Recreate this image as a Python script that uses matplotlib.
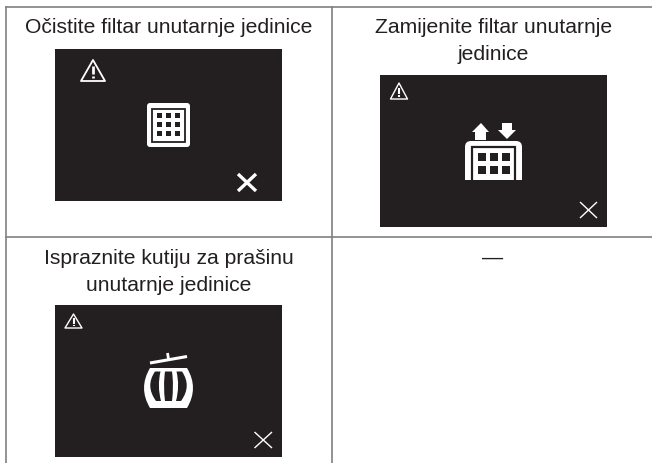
import matplotlib
matplotlib.use('Agg')
import matplotlib.pyplot as plt
import matplotlib.patches as mpatches
from matplotlib.path import Path

labels = ['Očistite filtar unutarnje\u00a0jedinice',
          'Zamijenite filtar unutarnje\njedinice',
          'Ispraznite kutiju za prašinu\nunutarnje jedinice',
          '—']
label_xy = [(168.5, 27.5), (493.5, 41), (168.5, 272), (493, 258)]
# black screens: left, top, right, bottom (pixels)
screens = [(55, 50, 282, 202), (380, 76, 607, 228), (55, 306, 282, 458)]

DARK = '#231f20'
GREY = '#808080'

plt.rcParams['font.family'] = ['Liberation Sans', 'DejaVu Sans']

fig = plt.figure(figsize=(6.52, 4.64), dpi=100)
ax = fig.add_axes([0, 0, 1, 1])
ax.set_xlim(0, 652)
ax.set_ylim(464, 0)
ax.axis('off')


def rect(x0, y0, x1, y1, color, zorder=3):
    ax.add_patch(mpatches.Rectangle((x0, y0), x1 - x0, y1 - y0, fc=color, ec='none', zorder=zorder))


def warning(x0, y0, x1, y1, lw):
    cx = (x0 + x1) / 2
    ax.add_patch(mpatches.Polygon([(cx, y0), (x1, y1), (x0, y1)], closed=True, fc='none',
                                  ec='white', lw=lw, joinstyle='round', zorder=4))
    h = y1 - y0
    ax.plot([cx, cx], [y0 + 0.30 * h, y0 + 0.68 * h], color='white', lw=lw * 1.5, zorder=4, solid_capstyle='butt')
    ax.plot([cx, cx], [y0 + 0.75 * h, y0 + 0.88 * h], color='white', lw=lw * 1.5, zorder=4, solid_capstyle='butt')


def cross(x0, y0, x1, y1, lw):
    ax.plot([x0, x1], [y0, y1], color='white', lw=lw, zorder=4, solid_capstyle='butt')
    ax.plot([x0, x1], [y1, y0], color='white', lw=lw, zorder=4, solid_capstyle='butt')


# table lines
ax.plot([6, 652], [8, 8], color=GREY, lw=1.2)
ax.plot([6, 652], [237.5, 237.5], color=GREY, lw=1.2)
ax.plot([6, 6], [8, 464], color=GREY, lw=1.2)
ax.plot([331.5, 331.5], [8, 464], color=GREY, lw=1.2)

for (x, y), lab in zip(label_xy, labels):
    ax.text(x, y, lab, ha='center', va='center', fontsize=15.2, color=DARK, linespacing=1.5)

for x0, y0, x1, y1 in screens:
    rect(x0, y0, x1, y1, DARK, zorder=2)

warning(81, 61, 105, 82, 1.3)
warning(390.5, 84, 407.5, 100, 1.0)
warning(65, 315, 82, 329, 1.0)
cross(238, 175, 256, 192, 2.4)
cross(580, 203, 597, 219, 1.0)
cross(254.5, 433, 272, 449, 1.0)

# filter icon
ax.add_patch(mpatches.FancyBboxPatch((149, 106), 39, 40, boxstyle='round,pad=2,rounding_size=3',
                                     fc='white', ec='none', zorder=3))
ax.add_patch(mpatches.Rectangle((152, 110), 33, 33, fc='none', ec=DARK, lw=1.3, zorder=4))
for sx in (157, 166, 175):
    for sy in (114, 123, 132):
        rect(sx, sy, sx + 5, sy + 5, DARK, zorder=5)

# filter with arrows icon
verts = [(465, 181), (465, 148), (465, 142), (471, 142), (516, 142), (522, 142), (522, 148), (522, 181), (465, 181)]
codes = [Path.MOVETO, Path.LINETO, Path.CURVE3, Path.CURVE3, Path.LINETO, Path.CURVE3, Path.CURVE3, Path.LINETO, Path.CLOSEPOLY]
ax.add_patch(mpatches.PathPatch(Path(verts, codes), fc='white', ec='none', zorder=3))
ax.plot([472, 472, 515, 515], [181, 147.5, 147.5, 181], color=DARK, lw=1.6, zorder=4, solid_joinstyle='miter')
for sx in (478, 490, 502):
    for sy in (154, 167):
        rect(sx, sy, sx + 8, sy + 8, DARK, zorder=5)
ax.add_patch(mpatches.Polygon([(481, 124), (489, 133), (486, 133), (486, 141), (475, 141), (475, 133), (472, 133)],
                              closed=True, fc='white', ec='none', zorder=4))
ax.add_patch(mpatches.Polygon([(507, 140), (498, 131), (502, 131), (502, 124), (512, 124), (512, 131), (516, 131)],
                              closed=True, fc='white', ec='none', zorder=4))

# dust bin icon
verts = [(150, 369), (138, 389), (150, 409), (187, 409), (199, 389), (187, 369), (150, 369)]
codes = [Path.MOVETO, Path.CURVE3, Path.CURVE3, Path.LINETO, Path.CURVE3, Path.CURVE3, Path.CLOSEPOLY]
ax.add_patch(mpatches.PathPatch(Path(verts, codes), fc='white', ec='none', zorder=3))
slot_codes = [Path.MOVETO, Path.CURVE3, Path.CURVE3, Path.LINETO, Path.CURVE3, Path.CURVE3, Path.CLOSEPOLY]
left = [(155, 372.5), (145, 387), (156, 402), (161, 402), (157, 387), (160.5, 372.5), (155, 372.5)]
right = [(337 - x, y) for x, y in left]
middle = [(165, 372.5), (163, 387), (165, 402), (172, 402), (174, 387), (172, 372.5), (165, 372.5)]
for slot in (left, middle, right):
    ax.add_patch(mpatches.PathPatch(Path(slot, slot_codes), fc=DARK, ec='none', zorder=4))
ax.plot([150, 187], [364, 357.5], color='white', lw=2.2, zorder=4, solid_capstyle='butt')
ax.plot([167.5, 168.5], [354, 360], color='white', lw=2.0, zorder=4, solid_capstyle='butt')

fig.savefig('out.png', dpi=100)
